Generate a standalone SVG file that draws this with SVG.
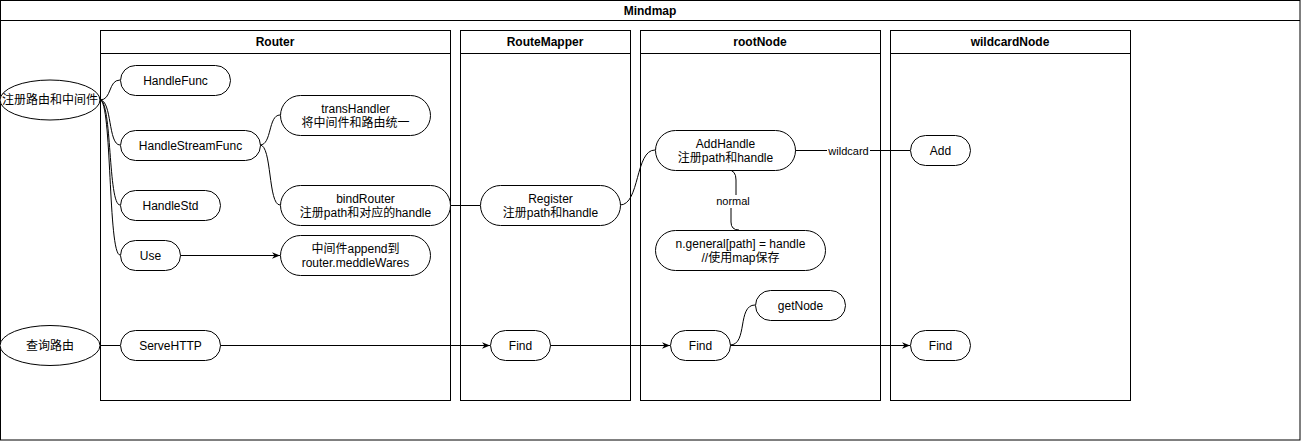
<svg xmlns="http://www.w3.org/2000/svg" width="1301" height="441" viewBox="0 0 1301 441">
<defs>
<style>
text{font-family:"Liberation Sans","Noto Sans CJK SC",sans-serif;font-size:12px;fill:#000;text-anchor:middle;dominant-baseline:central}
.t{font-weight:bold}
.lbl{font-size:11px}
.box{fill:#fff;stroke:#000;stroke-width:1}
.node{fill:#fff;stroke:#000;stroke-width:1}
.e{fill:none;stroke:#000;stroke-width:1}
.lb{fill:#fff;stroke:none}
</style>
<marker id="arr" viewBox="0 0 10 10" refX="10" refY="5" markerWidth="8" markerHeight="8" markerUnits="userSpaceOnUse" orient="auto">
<path d="M0,1 L10,5 L0,9 L3,5 Z" fill="#000"/>
</marker>
</defs>
<rect width="1301" height="441" fill="#fff"/>
<g id="pool">
<rect class="box" x="0.5" y="0.5" width="1299.5" height="439.5"/>
<line class="e" x1="0.5" y1="20.5" x2="1300" y2="20.5"/>
<text class="t" x="650" y="11">Mindmap</text>
</g>
<g id="lane-router">
<rect class="box" x="100.5" y="30.5" width="350" height="370"/>
<line class="e" x1="100.5" y1="53.5" x2="450.5" y2="53.5"/>
<text class="t" x="275" y="42">Router</text>
</g>
<g id="lane-routemapper">
<rect class="box" x="460.5" y="30.5" width="170" height="370"/>
<line class="e" x1="460.5" y1="53.5" x2="630.5" y2="53.5"/>
<text class="t" x="545" y="42">RouteMapper</text>
</g>
<g id="lane-rootnode">
<rect class="box" x="640.5" y="30.5" width="240" height="370"/>
<line class="e" x1="640.5" y1="53.5" x2="880.5" y2="53.5"/>
<text class="t" x="760" y="42">rootNode</text>
</g>
<g id="lane-wildcard">
<rect class="box" x="890.5" y="30.5" width="240" height="370"/>
<line class="e" x1="890.5" y1="53.5" x2="1130.5" y2="53.5"/>
<text class="t" x="1010" y="42">wildcardNode</text>
</g>
<g id="connectors">
<path class="e" d="M100,100 C112,100 108,80 120,80"/>
<path class="e" d="M100,100 C112,100 108,145 120,145"/>
<path class="e" d="M100,100 C112,100 108,205 120,205"/>
<path class="e" d="M100,100 C112,100 108,255 120,255"/>
<path class="e" d="M260,145 C272,145 268,115 280,115"/>
<path class="e" d="M260,145 C272,145 268,205 280,205"/>
<path class="e" d="M180,255.5 L280,255.5" marker-end="url(#arr)"/>
<path class="e" d="M450,205.5 L480,205.5"/>
<path class="e" d="M620,205 C640,205 635,150 655,150"/>
<path class="e" d="M795,150.5 L910,150.5"/>
<rect class="lb" x="827" y="144" width="43" height="13"/>
<text class="lbl" x="848.5" y="151">wildcard</text>
<path class="e" d="M728,170 Q736,170 736,180 L736,195 M731,208 L731,222 Q731,230 739,230"/>
<rect class="lb" x="714" y="195" width="38" height="13"/>
<text class="lbl" x="733" y="201">normal</text>
<path class="e" d="M100,345.5 L120,345.5"/>
<path class="e" d="M220,345.5 L490,345.5" marker-end="url(#arr)"/>
<path class="e" d="M550,345.5 L670,345.5" marker-end="url(#arr)"/>
<path class="e" d="M730,345 C748,345 737,305 755,305"/>
<path class="e" d="M730,345.5 L910,345.5" marker-end="url(#arr)"/>
</g>
<g id="n-register-route">
<ellipse class="node" cx="50" cy="100" rx="50" ry="20"/>
<text x="50" y="100">注册路由和中间件</text>
</g>
<g id="n-handlefunc">
<rect class="node" x="120.5" y="65.5" width="110" height="30" rx="15"/>
<text x="175.5" y="80.5">HandleFunc</text>
</g>
<g id="n-handlestreamfunc">
<rect class="node" x="120.5" y="130.5" width="140" height="30" rx="15"/>
<text x="190.5" y="145.5">HandleStreamFunc</text>
</g>
<g id="n-handlestd">
<rect class="node" x="120.5" y="190.5" width="100" height="30" rx="15"/>
<text x="170.5" y="205.5">HandleStd</text>
</g>
<g id="n-use">
<rect class="node" x="120.5" y="240.5" width="60" height="30" rx="15"/>
<text x="150.5" y="255.5">Use</text>
</g>
<g id="n-transhandler">
<rect class="node" x="280.5" y="95.5" width="150" height="40" rx="20"/>
<text x="355.5" y="108.5">transHandler</text>
<text x="355.5" y="122.5">将中间件和路由统一</text>
</g>
<g id="n-bindrouter">
<rect class="node" x="280.5" y="185.5" width="170" height="40" rx="20"/>
<text x="365.5" y="198.5">bindRouter</text>
<text x="365.5" y="212.5">注册path和对应的handle</text>
</g>
<g id="n-middleware">
<rect class="node" x="280.5" y="235.5" width="150" height="40" rx="20"/>
<text x="355.5" y="248.5">中间件append到</text>
<text x="355.5" y="262.5">router.meddleWares</text>
</g>
<g id="n-register">
<rect class="node" x="480.5" y="185.5" width="140" height="40" rx="20"/>
<text x="550.5" y="198.5">Register</text>
<text x="550.5" y="212.5">注册path和handle</text>
</g>
<g id="n-addhandle">
<rect class="node" x="655.5" y="130.5" width="140" height="40" rx="20"/>
<text x="725.5" y="143.5">AddHandle</text>
<text x="725.5" y="157.5">注册path和handle</text>
</g>
<g id="n-general">
<rect class="node" x="655.5" y="230.5" width="170" height="40" rx="20"/>
<text x="740.5" y="243.5">n.general[path] = handle</text>
<text x="740.5" y="257.5">//使用map保存</text>
</g>
<g id="n-add">
<rect class="node" x="910.5" y="135.5" width="60" height="30" rx="15"/>
<text x="940.5" y="150.5">Add</text>
</g>
<g id="n-query">
<ellipse class="node" cx="50" cy="345.5" rx="50" ry="20"/>
<text x="50" y="345.5">查询路由</text>
</g>
<g id="n-servehttp">
<rect class="node" x="120.5" y="330.5" width="100" height="30" rx="15"/>
<text x="170.5" y="345.5">ServeHTTP</text>
</g>
<g id="n-find-mapper">
<rect class="node" x="490.5" y="330.5" width="60" height="30" rx="15"/>
<text x="520.5" y="345.5">Find</text>
</g>
<g id="n-find-root">
<rect class="node" x="670.5" y="330.5" width="60" height="30" rx="15"/>
<text x="700.5" y="345.5">Find</text>
</g>
<g id="n-getnode">
<rect class="node" x="755.5" y="290.5" width="90" height="30" rx="15"/>
<text x="800.5" y="305.5">getNode</text>
</g>
<g id="n-find-wild">
<rect class="node" x="910.5" y="330.5" width="60" height="30" rx="15"/>
<text x="940.5" y="345.5">Find</text>
</g>
</svg>
